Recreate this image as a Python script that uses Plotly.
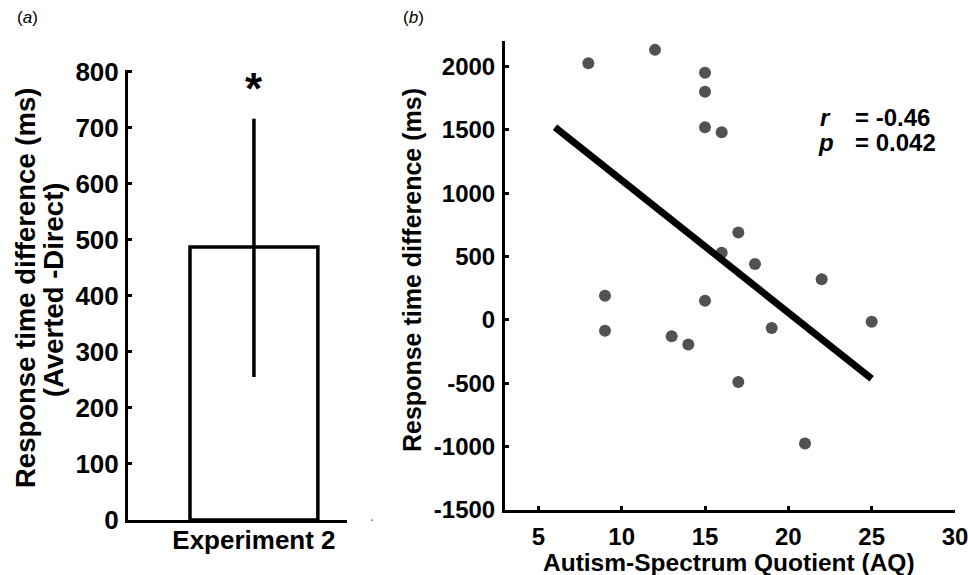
import plotly.graph_objects as go

# ---- Panel (a) data ----
categories = ["Experiment 2"]
mean_diff = [487]
err_plus = [229]
err_minus = [232]
a_ticks = [0, 100, 200, 300, 400, 500, 600, 700, 800]

# ---- Panel (b) data ----
aq = [8, 12, 15, 15, 15, 16, 17, 16, 18, 22, 9, 15, 9, 13, 14, 19, 25, 17, 21]
rt = [2025, 2130, 1950, 1800, 1520, 1480, 690, 530, 440, 320, 190, 150,
      -85, -130, -195, -65, -15, -490, -975]
fit_x = [6, 25]
fit_y = [1520, -465]
b_xticks = [5, 10, 15, 20, 25, 30]
b_yticks = [-1500, -1000, -500, 0, 500, 1000, 1500, 2000]
b_ytick_labels = ["-1500", "-1000", "-500", "0", "500", "1000", "1500", "2000"]

W, H = 968, 575
FONT = "Liberation Sans, Arial, sans-serif"


def px(x):
    return x / W


def py(y):
    return 1 - y / H


fig = go.Figure()

fig.add_trace(go.Bar(
    x=categories, y=mean_diff, width=0.584,
    marker=dict(color="white", line=dict(color="black", width=3.5)),
    error_y=dict(type="data", symmetric=False, array=err_plus,
                 arrayminus=err_minus, thickness=3.5, width=0, color="black"),
    xaxis="x", yaxis="y", showlegend=False, hoverinfo="skip"))

fig.add_trace(go.Scatter(
    x=aq, y=rt, mode="markers",
    marker=dict(size=12, color="#525252", line=dict(width=0)),
    xaxis="x2", yaxis="y2", showlegend=False))

fig.add_trace(go.Scatter(
    x=fit_x, y=fit_y, mode="lines",
    line=dict(color="black", width=7),
    xaxis="x2", yaxis="y2", showlegend=False))

tickfont_a = dict(family=FONT, size=26, color="black", weight="bold")
tickfont_b = dict(family=FONT, size=24, color="black", weight="bold")
common = dict(showgrid=False, zeroline=False, automargin=False,
              ticklabeloverflow="allow", showline=True, linewidth=3,
              linecolor="black")

fig.update_layout(
    template="none",
    width=W, height=H,
    margin=dict(l=0, r=0, t=0, b=0, autoexpand=False),
    paper_bgcolor="white", plot_bgcolor="white",
    showlegend=False,
    xaxis=dict(domain=[px(128), px(347)], range=[-0.575, 0.425], ticks="",
               anchor="y", ticklabelstandoff=-5, tickfont=tickfont_a, **common),
    yaxis=dict(domain=[py(520), py(70)], range=[0, 803],
               tickvals=a_ticks, ticks="inside", ticklen=4, tickwidth=2.5,
               tickcolor="black", anchor="x", ticklabelstandoff=1,
               tickfont=tickfont_a, **common),
    xaxis2=dict(domain=[px(505), px(955)], range=[3, 30],
                tickvals=b_xticks, ticks="inside", ticklen=4, tickwidth=2.5,
                tickcolor="black", anchor="y2", ticklabelstandoff=3,
                tickfont=tickfont_b, **common),
    yaxis2=dict(domain=[py(510), py(41)], range=[-1500, 2200],
                tickvals=b_yticks, ticktext=b_ytick_labels,
                ticks="inside", ticklen=4, tickwidth=2.5,
                tickcolor="black", anchor="x2", ticklabelstandoff=2,
                tickfont=tickfont_b, **common),
)

title_a = dict(family=FONT, size=27.5, color="black", weight="bold")
title_b = dict(family=FONT, size=25, color="black", weight="bold")
ann = []
# panel labels
ann.append(dict(text="(<i>a</i>)", x=px(15), y=py(18), xref="paper", yref="paper",
                xanchor="left", yanchor="middle", showarrow=False,
                font=dict(family=FONT, size=17, color="black")))
ann.append(dict(text="(<i>b</i>)", x=px(401), y=py(18), xref="paper", yref="paper",
                xanchor="left", yanchor="middle", showarrow=False,
                font=dict(family=FONT, size=17, color="black")))
# panel a y titles
ann.append(dict(text="Response time difference (ms)", x=px(25), y=py(288),
                xref="paper", yref="paper", textangle=-90, showarrow=False,
                xanchor="center", yanchor="middle", font=title_a))
ann.append(dict(text="(Averted -Direct)", x=px(53), y=py(290),
                xref="paper", yref="paper", textangle=-90, showarrow=False,
                xanchor="center", yanchor="middle", font=title_a))
# star
ann.append(dict(text="*", x=categories[0], y=770, xref="x", yref="y",
                showarrow=False, xanchor="center", yanchor="middle",
                font=dict(family=FONT, size=44, color="black", weight="bold")))
# panel b titles
ann.append(dict(text="Response time difference (ms)", x=px(412), y=py(270),
                xref="paper", yref="paper", textangle=-90, showarrow=False,
                xanchor="center", yanchor="middle", font=title_b))
ann.append(dict(text="Autism-Spectrum Quotient (AQ)", x=px(729), y=py(562),
                xref="paper", yref="paper", showarrow=False,
                xanchor="center", yanchor="middle",
                font=dict(family=FONT, size=24.5, color="black", weight="bold")))
# stats
stat_font = dict(family=FONT, size=24, color="black", weight="bold")
ann.append(dict(text="<i>r</i>", x=px(818), y=py(117), xref="paper", yref="paper",
                showarrow=False, xanchor="left", yanchor="middle", font=stat_font))
ann.append(dict(text="= -0.46", x=px(853), y=py(117), xref="paper", yref="paper",
                showarrow=False, xanchor="left", yanchor="middle", font=stat_font))
ann.append(dict(text="<i>p</i>", x=px(816), y=py(143), xref="paper", yref="paper",
                showarrow=False, xanchor="left", yanchor="middle", font=stat_font))
ann.append(dict(text="= 0.042", x=px(853), y=py(143), xref="paper", yref="paper",
                showarrow=False, xanchor="left", yanchor="middle", font=stat_font))
# small stray dot in the original
ann.append(dict(text=".", x=px(372), y=py(516), xref="paper", yref="paper",
                showarrow=False, xanchor="center", yanchor="middle",
                font=dict(family=FONT, size=14, color="#666666")))

fig.update_layout(annotations=ann)

fig.write_html("out.html")
